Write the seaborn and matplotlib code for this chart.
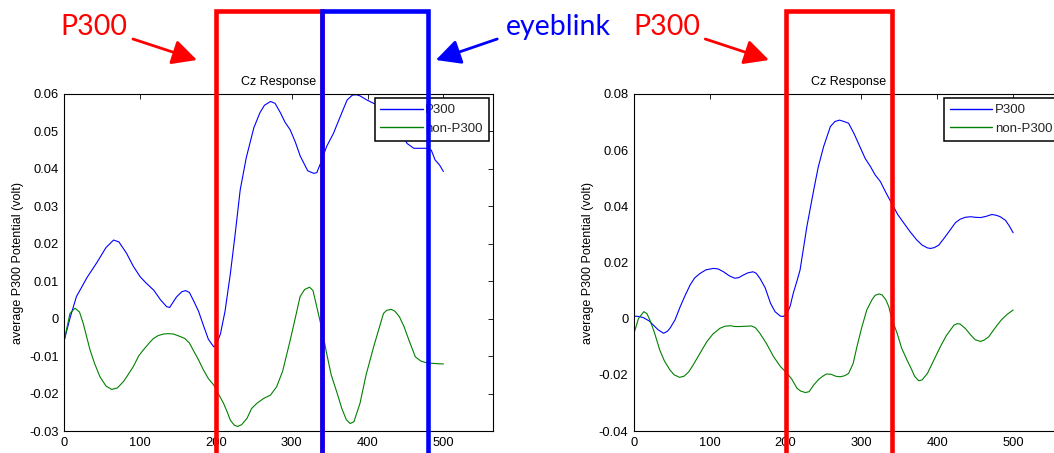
import numpy as np
import pandas as pd
import matplotlib
matplotlib.use("Agg")
import matplotlib.pyplot as plt
import seaborn as sns
from matplotlib.transforms import blended_transform_factory
from matplotlib.lines import Line2D
from matplotlib.patches import FancyArrowPatch

# ---------------- data ----------------
series_names = ["P300", "non-P300"]
series_colors = ["#0000FF", "#008000"]

# Left panel
left_p300_t = [0, 8, 16, 30, 43, 55, 65, 72, 82, 91, 100, 108, 118, 127, 135, 139, 148, 155, 160,
               165, 170, 177, 184, 190, 197, 200, 206, 212, 219, 225, 232, 240, 250, 258, 264, 272,
               278, 285, 291, 298, 305, 311, 316, 321, 329, 333, 338, 346, 355, 364, 373, 380, 385,
               390, 399, 408, 415, 425, 435, 445, 452, 461, 470, 478, 484, 489, 495, 500]
left_p300_v = [-0.0057, 0.0005, 0.0059, 0.011, 0.015, 0.019, 0.021, 0.0205, 0.0175, 0.014, 0.0112,
               0.0095, 0.0076, 0.005, 0.0032, 0.003, 0.0058, 0.0072, 0.0075, 0.007, 0.005, 0.002,
               -0.0021, -0.0055, -0.0075, -0.0072, -0.004, 0.002, 0.012, 0.022, 0.0344, 0.043,
               0.051, 0.055, 0.057, 0.058, 0.0575, 0.055, 0.0525, 0.0504, 0.047, 0.0435, 0.0415,
               0.0395, 0.0388, 0.039, 0.0415, 0.046, 0.0495, 0.054, 0.0584, 0.0597, 0.0598, 0.0595,
               0.0584, 0.0575, 0.057, 0.0555, 0.053, 0.0495, 0.0468, 0.0455, 0.0455, 0.0455, 0.045,
               0.0424, 0.041, 0.0393]
left_non_t = [0, 7.5, 14, 20, 25, 34, 40, 47, 55, 62.5, 70, 78, 84, 91, 98, 104, 112, 117.5, 124,
              131, 137, 144, 152, 159, 165, 170, 177, 183.5, 190, 197, 203, 210, 215, 219, 224, 228.5,
              234, 241, 247, 254, 263, 272, 280, 288, 298, 305, 311, 317, 323.5, 328, 335, 340, 346,
              352, 360, 366, 372, 377, 382, 390, 398, 408, 416, 421, 425, 431, 436, 442, 448, 455,
              463, 470, 478, 490, 500]
left_non_v = [-0.0057, 0.0014, 0.0028, 0.0018, -0.0013, -0.0084, -0.012, -0.0155, -0.018, -0.0189,
              -0.0185, -0.0168, -0.015, -0.0128, -0.010, -0.0084, -0.0065, -0.0053, -0.0045, -0.0041,
              -0.004, -0.0041, -0.0047, -0.0053, -0.0065, -0.0084, -0.011, -0.0137, -0.016, -0.0177,
              -0.020, -0.0226, -0.025, -0.0271, -0.0284, -0.0288, -0.0283, -0.0266, -0.024, -0.0226,
              -0.0213, -0.0204, -0.0182, -0.014, -0.0057, 0.0005, 0.0059, 0.0078, 0.0084, 0.0075,
              0.0014, -0.003, -0.0093, -0.015, -0.020, -0.024, -0.027, -0.028, -0.0275, -0.0226,
              -0.015, -0.0075, -0.002, 0.0014, 0.0022, 0.0025, 0.002, 0.0005, -0.0021, -0.006,
              -0.0102, -0.0113, -0.0118, -0.012, -0.0121]

# Right panel
right_p300_t = [0, 6, 12, 20, 25.5, 32, 39, 44, 47.5, 54, 61, 67, 74, 80, 87, 95, 105, 111, 118,
                126, 133, 138, 144, 150, 157, 161, 166, 173, 180, 186, 193, 197, 202, 206, 210, 215,
                219, 228, 237, 243, 250, 259, 265, 271, 277, 283, 290, 298, 305, 312, 318, 325, 332,
                340, 348, 356, 364, 373, 380, 387, 391, 396, 402, 410, 417, 424, 430, 437, 444, 450,
                457, 464, 472, 478, 483, 490, 495, 500]
right_p300_v = [0.0009, 0.0008, 0.0004, -0.0008, -0.0023, -0.004, -0.0052, -0.0045, -0.0034, -0.0005,
                0.0043, 0.008, 0.012, 0.0145, 0.0161, 0.0174, 0.0179, 0.0177, 0.0167, 0.0152, 0.0144,
                0.0146, 0.0155, 0.0163, 0.0167, 0.0162, 0.0144, 0.011, 0.0055, 0.0025, 0.0009, 0.0008,
                0.0019, 0.0045, 0.009, 0.0135, 0.0173, 0.0328, 0.0458, 0.054, 0.0612, 0.0684, 0.0702,
                0.0707, 0.0702, 0.0696, 0.066, 0.0612, 0.057, 0.0541, 0.0512, 0.0488, 0.045, 0.041,
                0.037, 0.034, 0.031, 0.028, 0.0262, 0.0252, 0.025, 0.0253, 0.0262, 0.029, 0.0316,
                0.0342, 0.0354, 0.0361, 0.0363, 0.0361, 0.036, 0.0364, 0.0371, 0.0368, 0.0363, 0.035,
                0.033, 0.0306]
right_non_t = [0, 6, 13, 17, 21, 27, 34, 40, 47.5, 53, 60, 66, 72, 78, 86, 96, 104, 113.5, 120, 127,
               133, 140, 147, 155, 160, 166, 175, 184, 193, 202, 208, 215, 220, 226, 231, 237, 244,
               250, 254, 260, 266, 272, 278, 283, 289, 294, 300, 307, 314, 318, 323, 327, 332, 336,
               340, 347, 353, 360, 366, 370, 375.5, 380, 387, 395, 404, 412, 422, 426, 430, 437, 444,
               450, 457, 462, 468, 473, 479, 485, 492, 500]
right_non_v = [-0.0052, 0.0001, 0.0025, 0.0018, -0.0005, -0.005, -0.0112, -0.015, -0.0183, -0.020,
               -0.0209, -0.0205, -0.019, -0.0165, -0.0128, -0.0082, -0.0055, -0.0034, -0.0027,
               -0.0025, -0.0028, -0.0028, -0.0027, -0.0026, -0.0032, -0.0052, -0.009, -0.0135,
               -0.017, -0.0195, -0.0215, -0.0248, -0.0258, -0.0263, -0.026, -0.0236, -0.0215,
               -0.0203, -0.0197, -0.0198, -0.0205, -0.0207, -0.0203, -0.0195, -0.016, -0.010,
               -0.0035, 0.0031, 0.0068, 0.0083, 0.0088, 0.0085, 0.0068, 0.0043, 0.0, -0.0052,
               -0.0105, -0.0147, -0.018, -0.0205, -0.0221, -0.0218, -0.0195, -0.015, -0.010, -0.006,
               -0.0023, -0.0018, -0.0019, -0.0035, -0.0058, -0.0075, -0.0081, -0.0076, -0.0064,
               -0.0045, -0.0023, -0.0003, 0.0015, 0.0031]

x_ticks = [0, 100, 200, 300, 400, 500]
x_tick_labels = ["0", "100", "200", "300", "400", "500"]
left_y_ticks = [-0.03, -0.02, -0.01, 0, 0.01, 0.02, 0.03, 0.04, 0.05, 0.06]
left_y_tick_labels = ["-0.03", "-0.02", "-0.01", "0", "0.01", "0.02", "0.03", "0.04", "0.05", "0.06"]
right_y_ticks = [-0.04, -0.02, 0, 0.02, 0.04, 0.06, 0.08]
right_y_tick_labels = ["-0.04", "-0.02", "0", "0.02", "0.04", "0.06", "0.08"]

title_text = "Cz Response"
ylabel_text = "average P300 Potential (volt)"

# annotation windows (in ms, data units of each panel)
left_p300_window = [200, 340]
left_eyeblink_window = [340, 480]
right_p300_window = [200, 340]

# ---------------- style ----------------
sns.set_style("white")
plt.rcParams["font.family"] = ["Liberation Sans", "DejaVu Sans"]

W, H = 1054, 453
fig = plt.figure(figsize=(W / 100, H / 100), dpi=100)
fig.patch.set_facecolor("white")

ax_w = 428.4 / W
ax_h = 337 / H
ax_b = 1 - 431 / H
axL = fig.add_axes([64.3 / W, ax_b, ax_w, ax_h])
axR = fig.add_axes([634 / W, ax_b, ax_w, ax_h])

palette = dict(zip(series_names, series_colors))


def panel(ax, t1, v1, t2, v2, yticks, ylabels, ylim):
    df = pd.DataFrame({
        "t": list(t1) + list(t2),
        "v": list(v1) + list(v2),
        "cls": [series_names[0]] * len(t1) + [series_names[1]] * len(t2),
    })
    sns.lineplot(data=df, x="t", y="v", hue="cls", palette=palette, estimator=None,
                 sort=False, linewidth=0.8, ax=ax, legend=False)
    ax.set_xlim(0, 565)
    ax.set_ylim(*ylim)
    ax.set_xticks(x_ticks)
    ax.set_xticklabels(x_tick_labels)
    ax.set_yticks(yticks)
    ax.set_yticklabels(ylabels)
    ax.set_xlabel("")
    ax.set_ylabel(ylabel_text, fontsize=9, color="black")
    ax.yaxis.set_label_coords(-0.094, 0.5)
    ax.set_title(title_text, fontsize=9, pad=6.5, color="black")
    ax.tick_params(direction="in", length=3.5, width=0.6, top=True, right=True,
                   labelsize=9.3, colors="black", pad=4)
    for s in ax.spines.values():
        s.set_color("black")
        s.set_linewidth(0.8)
        s.set_visible(True)
    handles = [Line2D([], [], color=c, lw=1.0) for c in series_colors]
    leg = ax.legend(handles, series_names, loc="upper right", bbox_to_anchor=(1, 1),
                    borderaxespad=0.3, fontsize=9.5, frameon=True, fancybox=False,
                    edgecolor="black", framealpha=1, handlelength=3.2, handletextpad=0.2,
                    borderpad=0.45, labelspacing=0.5)
    leg.get_frame().set_linewidth(1.1)


panel(axL, left_p300_t, left_p300_v, left_non_t, left_non_v,
      left_y_ticks, left_y_tick_labels, (-0.03, 0.06))
panel(axR, right_p300_t, right_p300_v, right_non_t, right_non_v,
      right_y_ticks, right_y_tick_labels, (-0.04, 0.08))

# ---------------- annotation overlays ----------------
top_y = 1 - 11 / H
RED = "#FF0000"
BLUE = "#0000FF"


def window_box(ax, window, color):
    tr = blended_transform_factory(ax.transData, fig.transFigure)
    ln = Line2D([window[0], window[0], window[1], window[1]], [0, top_y, top_y, 0],
                color=color, lw=3.3, solid_joinstyle="miter", solid_capstyle="butt",
                transform=tr)
    fig.add_artist(ln)


def label_arrow(ax, text, color, text_x, start, tip):
    tr = blended_transform_factory(ax.transData, fig.transFigure)
    fig.text(text_x, 1 - 35 / H, text, color=color, fontsize=20.5, ha="center",
             va="baseline", family=["Lato", "DejaVu Sans"], transform=tr)
    arr = FancyArrowPatch((start, 1 - 39 / H), (tip, 1 - 60 / H),
                          arrowstyle="-|>,head_length=0.75,head_width=0.38",
                          mutation_scale=20, lw=2.0, color=color, shrinkA=0, shrinkB=0,
                          transform=tr)
    fig.add_artist(arr)


window_box(axL, left_p300_window, RED)
window_box(axL, left_eyeblink_window, BLUE)
window_box(axR, right_p300_window, RED)

label_arrow(axL, "P300", RED, 38.6, 90.5, 175)
label_arrow(axL, "eyeblink", BLUE, 651, 571, 490)
label_arrow(axR, "P300", RED, 43, 94, 178)

fig.savefig("out.png", dpi=100, facecolor="white")
